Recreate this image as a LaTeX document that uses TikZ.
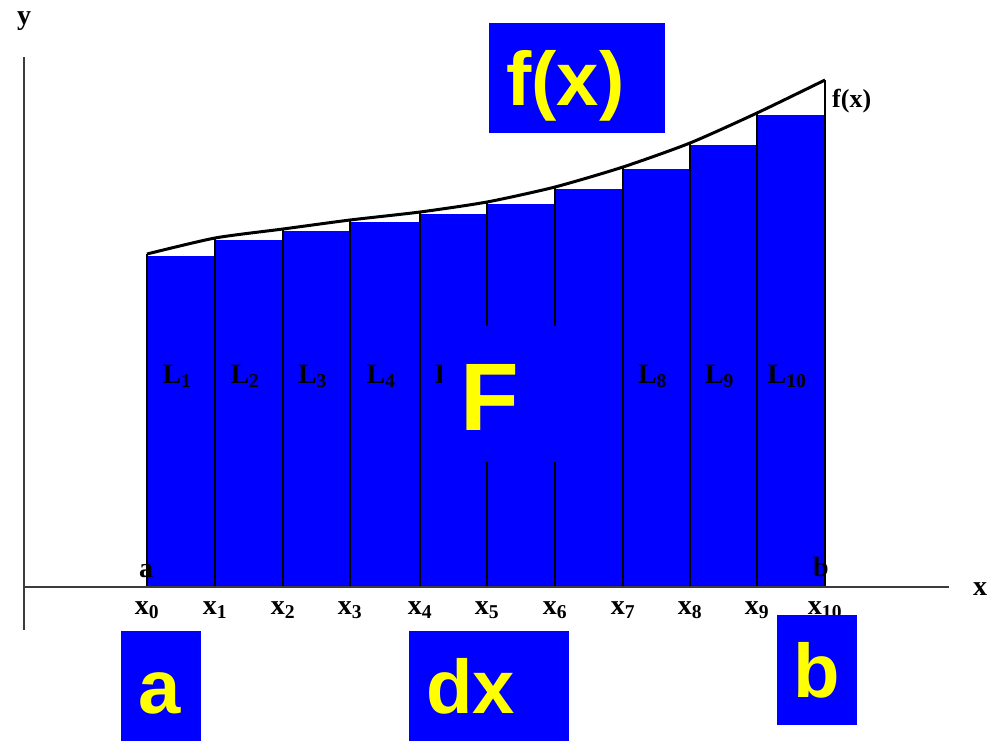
\documentclass[tikz,border=0pt]{standalone}
\usepackage{fontspec}
\setmainfont{Liberation Serif}
\newfontfamily\tagfont{Liberation Sans}
\usepackage{xcolor}
\usetikzlibrary{positioning,calc}
\definecolor{tagblue}{RGB}{0,0,255}
\definecolor{tagyellow}{RGB}{255,255,0}
\definecolor{axisgray}{RGB}{60,60,60}

\begin{document}
\begin{tikzpicture}[x=1pt, y=-1pt, every node/.style={inner sep=0pt},
  lab/.style={font=\bfseries\fontsize{28}{30}\selectfont},
  tag/.style={fill=tagblue,text=tagyellow,anchor=north west,align=left,inner xsep=17pt,inner ysep=0pt,text height=82pt,text depth=28pt,font=\tagfont\bfseries\fontsize{76}{76}\selectfont}]
\useasboundingbox (0,0) rectangle (996,740);
\coordinate (o) at (24,587);
\coordinate (ytop) at (24,57);
\coordinate (ybot) at (24,630);
\coordinate (xend) at (949,587);
\foreach \i/\px/\py in {0/147/254,1/215/238,2/283/229,3/350/220,4/420/212,5/487/202,6/555/187,7/623/167,8/690/143,9/757/113,10/825/80}
  \coordinate (p\i) at (\px,\py);
\foreach \i [evaluate=\i as \j using int(\i-1)] in {1,...,10}
  \fill[tagblue] (p\j |- o) rectangle ($(p\i |- p\j)+(0,1.5)$);
\foreach \i in {0,...,10}
  \draw[line width=2pt] (p\i |- o) -- (p\i);
\draw[axisgray,line width=2pt] (ytop) -- (ybot);
\draw[axisgray,line width=2pt] (o) -- (xend);
\draw[line width=3pt,line join=round] plot[smooth,tension=0.4] coordinates {(p0) (p1) (p2) (p3) (p4) (p5) (p6) (p7) (p8) (p9) (p10)};
\foreach \i [evaluate=\i as \j using int(\i-1)] in {1,...,10}
  \node[lab,anchor=base] (L\i) at ($(p\j |- 0,383)!0.5!(p\i |- 0,383)+(-4,0)$) {L\textsubscript{\i}};
\foreach \i in {0,...,10}
  \node[lab,anchor=base] (x\i) at (p\i |- 0,614) {x\textsubscript{\i}};
\node[lab,anchor=base] (ylab) at (24,24) {y};
\node[lab,anchor=base] (xlab) at (980,595) {x};
\node[lab,anchor=base] (alab) at (146,577) {a};
\node[lab,anchor=base] (blab) at (821,576) {b};
\node[lab,anchor=base west,font=\bfseries\fontsize{26}{28}\selectfont] (flab) at (832,107) {f(x)};
\node[tag,text width=142pt] (fbox) at (489,23) {f(x)};
\node[tag,text width=46pt] (abox) at (121,631) {a};
\node[tag,text width=126pt] (dxbox) at (409,631) {dx};
\node[tag,text width=48pt,inner xsep=16pt] (bbox) at (777,615) {b};
\node[tag,text width=136pt,inner xsep=18pt,text height=104pt,text depth=32pt,font=\tagfont\bfseries\fontsize{96}{96}\selectfont] (Fbox) at (442,326) {F};
\end{tikzpicture}
\end{document}
